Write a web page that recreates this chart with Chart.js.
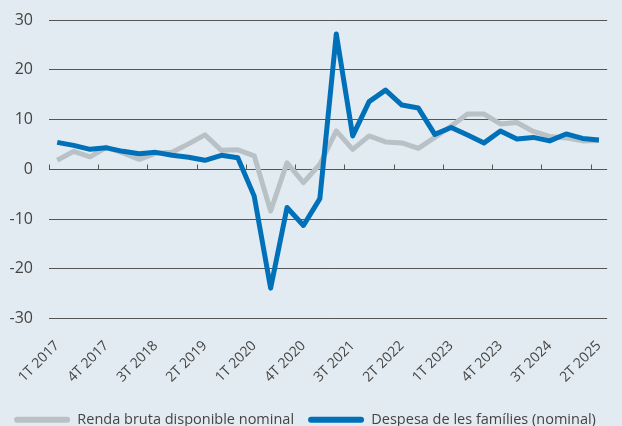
<!DOCTYPE html>
<html>
<head>
<meta charset="utf-8">
<script src="https://cdn.jsdelivr.net/npm/chart.js@4/dist/chart.umd.min.js"></script>
<style>
  html, body { margin: 0; padding: 0; background: #e2ebf1; }
  #wrap { width: 622px; height: 426px; }
</style>
</head>
<body>
<div id="wrap"><canvas id="chart" width="622" height="426"></canvas></div>
<script>
// quarters 1T 2017 .. 2T 2025
var quarters = [
  "1T 2017", "2T 2017", "3T 2017", "4T 2017",
  "1T 2018", "2T 2018", "3T 2018", "4T 2018",
  "1T 2019", "2T 2019", "3T 2019", "4T 2019",
  "1T 2020", "2T 2020", "3T 2020", "4T 2020",
  "1T 2021", "2T 2021", "3T 2021", "4T 2021",
  "1T 2022", "2T 2022", "3T 2022", "4T 2022",
  "1T 2023", "2T 2023", "3T 2023", "4T 2023",
  "1T 2024", "2T 2024", "3T 2024", "4T 2024",
  "1T 2025", "2T 2025"
];

var renda = [1.8, 3.6, 2.5, 4.4, 3.3, 2.0, 3.2, 3.4, 5.1, 6.9, 3.8, 3.9,
  2.7, -8.4, 1.3, -2.7, 1.0, 7.7, 4.0, 6.7, 5.5, 5.3, 4.2, 6.4,
  8.7, 11.1, 11.1, 9.1, 9.4, 7.6, 6.6, 6.3, 5.7, 5.8];

var despesa = [5.4, 4.8, 4.0, 4.3, 3.6, 3.1, 3.4, 2.8, 2.4, 1.8, 2.8, 2.3,
  -5.4, -23.9, -7.7, -11.3, -5.9, 27.2, 6.7, 13.6, 15.9, 12.9, 12.3, 7.0,
  8.4, 6.9, 5.3, 7.7, 6.1, 6.4, 5.7, 7.1, 6.2, 5.9];

var seriesNames = ["Renda bruta disponible nominal", "Despesa de les famílies (nominal)"];
var yTicks = [-30, -20, -10, 0, 10, 20, 30];

var grey = "#b8c1c6";
var blue = "#0071b9";
var textColor = "#444444";

// small ticks on the zero line, every 3 quarters
var zeroTicks = {
  id: "zeroTicks",
  beforeDatasetsDraw: function(chart) {
    var x = chart.scales.x, y = chart.scales.y, ctx = chart.ctx;
    var half = (x.getPixelForValue(1) - x.getPixelForValue(0)) / 2;
    var y0 = Math.round(y.getPixelForValue(0)) + 0.5;
    ctx.save();
    ctx.strokeStyle = "#555555";
    ctx.lineWidth = 1;
    ctx.beginPath();
    for (var i = 0; i < quarters.length; i += 3) {
      var px = Math.round(x.getPixelForValue(i) - half) + 0.5;
      ctx.moveTo(px, y0);
      ctx.lineTo(px, y0 - 5);
    }
    ctx.stroke();
    ctx.restore();
  }
};

new Chart(document.getElementById("chart"), {
  type: "line",
  data: {
    labels: quarters,
    datasets: [
      {
        label: seriesNames[0],
        data: renda,
        borderColor: grey,
        backgroundColor: grey,
        borderWidth: 5,
        pointRadius: 0,
        borderJoinStyle: "round",
        tension: 0,
        order: 1
      },
      {
        label: seriesNames[1],
        data: despesa,
        borderColor: blue,
        backgroundColor: blue,
        borderWidth: 5,
        pointRadius: 0,
        borderJoinStyle: "round",
        tension: 0,
        order: 0
      }
    ]
  },
  options: {
    responsive: false,
    animation: false,
    layout: { padding: { top: 20, right: 12, left: 0, bottom: -11 } },
    scales: {
      x: {
        type: "category",
        offset: true,
        grid: { display: false, offset: true },
        border: { display: false },
        afterFit: function(s) { s.height = 80; },
        ticks: {
          autoSkip: false,
          maxRotation: 45,
          minRotation: 45,
          padding: 11,
          color: textColor,
          font: { family: "Open Sans", size: 14 },
          callback: function(v, i) { return i % 3 === 0 ? quarters[i] : ""; }
        }
      },
      y: {
        min: -30,
        max: 30,
        afterFit: function(s) { s.width = 49; s.paddingTop = 0; s.paddingBottom = 0; },
        afterBuildTicks: function(s) { s.ticks = yTicks.map(function(v) { return { value: v }; }); },
        border: { display: false },
        grid: { color: "#555555", lineWidth: 1, drawTicks: false },
        ticks: {
          padding: 16,
          color: textColor,
          font: { family: "Open Sans", size: 16 }
        }
      }
    },
    plugins: {
      legend: {
        position: "bottom",
        labels: {
          boxWidth: 56,
          boxHeight: 6,
          padding: 14,
          useBorderRadius: true,
          borderRadius: 3,
          color: textColor,
          font: { family: "Open Sans", size: 14.5 },
          generateLabels: function(chart) {
            return chart.data.datasets.map(function(ds, i) {
              return {
                text: ds.label,
                fillStyle: ds.borderColor,
                strokeStyle: ds.borderColor,
                lineWidth: 0,
                fontColor: textColor,
                hidden: false,
                datasetIndex: i,
                borderRadius: 3
              };
            });
          }
        }
      },
      tooltip: { enabled: false }
    }
  },
  plugins: [zeroTicks]
});
</script>
</body>
</html>
